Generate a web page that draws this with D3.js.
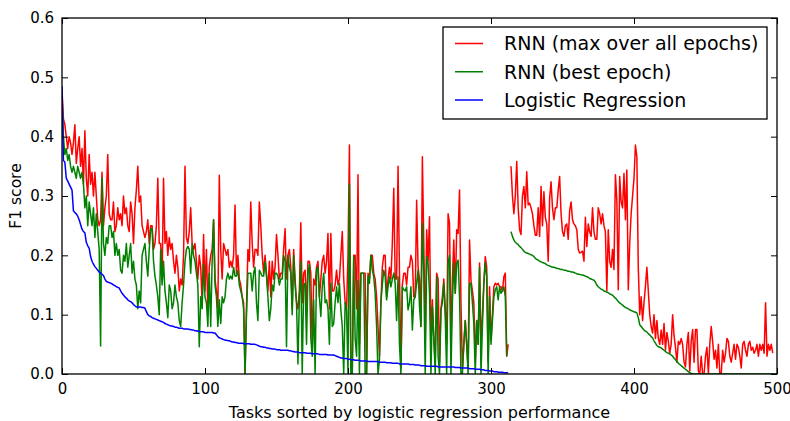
<!DOCTYPE html>
<html>
<head>
<meta charset="utf-8">
<script src="https://cdn.jsdelivr.net/npm/d3@7/dist/d3.min.js"></script>
<style>
  html, body { margin: 0; padding: 0; background: #fff; }
  svg { display: block; font-family: "DejaVu Sans", sans-serif; }
</style>
</head>
<body>
<svg id="chart" width="790" height="421"></svg>
<script>
// ---------------- DATA ----------------
const xTicks = [0, 100, 200, 300, 400, 500];
const xTickLabels = ["0", "100", "200", "300", "400", "500"];
const yTicks = [0, 0.1, 0.2, 0.3, 0.4, 0.5, 0.6];
const yTickLabels = ["0.0", "0.1", "0.2", "0.3", "0.4", "0.5", "0.6"];
const seriesNames = ["RNN (max over all epochs)", "RNN (best epoch)", "Logistic Regression"];
const xLabel = "Tasks sorted by logistic regression performance";
const yLabel = "F1 score";

// RNN (max over all epochs), first block of tasks (starting at task 0)
const rnnMaxStartA = 0;
const rnnMaxA = [
  0.48, 0.43, 0.42, 0.40, 0.38, 0.40, 0.39, 0.37, 0.39, 0.42,
  0.355, 0.38, 0.40, 0.35, 0.38, 0.32, 0.41, 0.33, 0.30, 0.37,
  0.32, 0.34, 0.30, 0.34, 0.30, 0.26, 0.25, 0.26, 0.34, 0.25,
  0.28, 0.30, 0.37, 0.27, 0.26, 0.26, 0.29, 0.24, 0.25, 0.28,
  0.26, 0.27, 0.25, 0.30, 0.27, 0.28, 0.25, 0.24, 0.29, 0.27,
  0.22, 0.28, 0.31, 0.35, 0.29, 0.30, 0.25, 0.24, 0.23, 0.24,
  0.26, 0.22, 0.25, 0.25, 0.21, 0.22, 0.25, 0.33, 0.22, 0.22,
  0.16, 0.33, 0.22, 0.24, 0.20, 0.23, 0.21, 0.22, 0.19, 0.17,
  0.20, 0.18, 0.14, 0.16, 0.15, 0.20, 0.35, 0.23, 0.22, 0.24,
  0.28, 0.22, 0.21, 0.22, 0.19, 0.16, 0.20, 0.18, 0.12, 0.235,
  0.14, 0.21, 0.11, 0.18, 0.20, 0.21, 0.26, 0.16, 0.14, 0.11,
  0.335, 0.21, 0.16, 0.22, 0.21, 0.20, 0.21, 0.18, 0.19, 0.18,
  0.20, 0.285, 0.17, 0.20, 0.16, 0.15, 0.13, 0.12, 0.0, 0.11,
  0.21, 0.19, 0.29, 0.22, 0.18, 0.21, 0.21, 0.20, 0.29, 0.25,
  0.20, 0.17, 0.20, 0.17, 0.14, 0.19, 0.13, 0.19, 0.16, 0.18,
  0.235, 0.20, 0.16, 0.17, 0.17, 0.21, 0.245, 0.16, 0.20, 0.21,
  0.18, 0.11, 0.21, 0.16, 0.12, 0.11, 0.14, 0.255, 0.12, 0.17,
  0.175, 0.11, 0.19, 0.19, 0.17, 0.04, 0.16, 0.15, 0.18, 0.19,
  0.13, 0.16, 0.19, 0.20, 0.17, 0.19, 0.237, 0.11, 0.237, 0.14,
  0.14, 0.15, 0.175, 0.15, 0.16, 0.20, 0.24, 0.16, 0.12, 0.11,
  0.20, 0.386, 0.01, 0.01, 0.20, 0.20, 0.11, 0.336, 0.05, 0.17,
  0.17, 0.17, 0.17, 0.0, 0.17, 0.16, 0.20, 0.20, 0.17, 0.16,
  0.13, 0.08, 0.03, 0.12, 0.18, 0.20, 0.20, 0.13, 0.16, 0.18,
  0.16, 0.22, 0.313, 0.16, 0.16, 0.35, 0.17, 0.01, 0.15, 0.17,
  0.17, 0.15, 0.18, 0.18, 0.20, 0.19, 0.13, 0.13, 0.293, 0.18,
  0.16, 0.08, 0.366, 0.22, 0.05, 0.243, 0.19, 0.265, 0.05, 0.125,
  0.06, 0.02, 0.17, 0.16, 0.02, 0.11, 0.13, 0.16, 0.11, 0.05,
  0.27, 0.254, 0.05, 0.16, 0.226, 0.136, 0.243, 0.237, 0.31, 0.12,
  0.01, 0.05, 0.09, 0.05, 0.01, 0.226, 0.158, 0.14, 0.12, 0.02,
  0.09, 0.05, 0.187, 0.05, 0.10, 0.153, 0.198, 0.18, 0.02, 0.147,
  0.057, 0.10, 0.147, 0.153, 0.15, 0.153, 0.147, 0.147, 0.14, 0.164,
  0.17, 0.03, 0.05
];

// RNN (max over all epochs), second block of tasks
const rnnMaxStartB = 314;
const rnnMaxB = [
  0.35, 0.30, 0.27, 0.30, 0.358, 0.28, 0.243, 0.235, 0.30, 0.316,
  0.28, 0.341, 0.285, 0.288, 0.28, 0.27, 0.25, 0.234, 0.234, 0.28,
  0.232, 0.316, 0.25, 0.307, 0.264, 0.253, 0.19, 0.296, 0.324, 0.28,
  0.26, 0.28, 0.28, 0.31, 0.333, 0.27, 0.24, 0.232, 0.25, 0.253,
  0.227, 0.275, 0.29, 0.26, 0.253, 0.25, 0.243, 0.21, 0.204, 0.205,
  0.207, 0.19, 0.264, 0.215, 0.253, 0.24, 0.232, 0.28, 0.24, 0.227,
  0.227, 0.28, 0.27, 0.253, 0.27, 0.25, 0.24, 0.14, 0.243, 0.19,
  0.18, 0.21, 0.176, 0.336, 0.293, 0.142, 0.333, 0.29, 0.28, 0.338,
  0.26, 0.344, 0.142, 0.22, 0.27, 0.30, 0.33, 0.386, 0.366, 0.18,
  0.10, 0.13, 0.09, 0.12, 0.148, 0.18, 0.14, 0.10, 0.08, 0.069,
  0.10, 0.06, 0.09, 0.06, 0.05,
  0.074, 0.05, 0.085, 0.04, 0.07, 0.055, 0.035, 0.05, 0.10, 0.065,
  0.045, 0.02, 0.055, 0.05, 0.06, 0.05, 0.02, 0.012, 0.05, 0.07,
  0.005, 0.055, 0.075, 0.02, 0.075, 0.075, 0.005, 0.0, 0.03, 0.0,
  0.0, 0.03, 0.045, 0.0, 0.05, 0.08, 0.055, 0.025, 0.04, 0.01,
  0.05, 0.0, 0.0, 0.04, 0.02, 0.035, 0.06, 0.055, 0.03, 0.02,
  0.035, 0.05, 0.025, 0.05, 0.045, 0.03, 0.01, 0.05, 0.055, 0.04,
  0.03, 0.05, 0.055, 0.04, 0.045, 0.035, 0.04, 0.05, 0.03, 0.05,
  0.04, 0.05, 0.035, 0.12, 0.03, 0.05, 0.04, 0.05, 0.035
];

// RNN (best epoch), first block
const rnnBestStartA = 0;
const rnnBestA = [
  0.47, 0.40, 0.37, 0.38, 0.36, 0.37, 0.35, 0.34, 0.35, 0.34,
  0.33, 0.35, 0.34, 0.33, 0.34, 0.32, 0.28, 0.30, 0.25, 0.29,
  0.27, 0.25, 0.28, 0.23, 0.27, 0.24, 0.21, 0.047, 0.33, 0.22,
  0.20, 0.23, 0.22, 0.25, 0.25, 0.23, 0.24, 0.20, 0.22, 0.20,
  0.21, 0.175, 0.17, 0.20, 0.19, 0.22, 0.18, 0.20, 0.22, 0.17,
  0.19, 0.16, 0.15, 0.11, 0.14, 0.12, 0.20, 0.21, 0.22, 0.19,
  0.165, 0.21, 0.245, 0.245, 0.19, 0.165, 0.15, 0.13, 0.10, 0.21,
  0.15, 0.19, 0.14, 0.12, 0.095, 0.15, 0.14, 0.11, 0.12, 0.15,
  0.13, 0.12, 0.09, 0.08, 0.12, 0.15, 0.19, 0.21, 0.215, 0.21,
  0.17, 0.22, 0.20, 0.19, 0.17, 0.15, 0.046, 0.13, 0.11, 0.185,
  0.13, 0.12, 0.08, 0.17, 0.08, 0.19, 0.26, 0.15, 0.13, 0.08,
  0.125, 0.085, 0.13, 0.12, 0.13, 0.16, 0.17, 0.16, 0.165, 0.16,
  0.18, 0.165, 0.165, 0.175, 0.15, 0.14, 0.13, 0.11, 0.0, 0.10,
  0.17, 0.17, 0.17, 0.14, 0.17, 0.18, 0.12, 0.09, 0.175, 0.17,
  0.165, 0.165, 0.19, 0.165, 0.13, 0.09, 0.11, 0.15, 0.14, 0.17,
  0.17, 0.165, 0.15, 0.16, 0.16, 0.20, 0.19, 0.046, 0.20, 0.18,
  0.17, 0.10, 0.20, 0.15, 0.12, 0.017, 0.13, 0.19, 0.0, 0.15,
  0.153, 0.05, 0.17, 0.184, 0.06, 0.03, 0.125, 0.0, 0.175, 0.18,
  0.13, 0.097, 0.147, 0.17, 0.12, 0.125, 0.11, 0.05, 0.153, 0.08,
  0.085, 0.12, 0.147, 0.12, 0.153, 0.108, 0.08, 0.0, 0.12, 0.108,
  0.0, 0.32, 0.0, 0.0, 0.198, 0.06, 0.03, 0.158, 0.0, 0.17,
  0.17, 0.17, 0.0, 0.0, 0.164, 0.153, 0.20, 0.175, 0.164, 0.136,
  0.08, 0.0, 0.024, 0.12, 0.15, 0.175, 0.164, 0.125, 0.147, 0.164,
  0.147, 0.16, 0.17, 0.153, 0.09, 0.164, 0.05, 0.0, 0.147, 0.142,
  0.14, 0.147, 0.108, 0.12, 0.147, 0.074, 0.125, 0.13, 0.153, 0.175,
  0.114, 0.08, 0.254, 0.17, 0.0, 0.198, 0.187, 0.136, 0.0, 0.114,
  0.06, 0.0, 0.164, 0.03, 0.0, 0.108, 0.12, 0.153, 0.097, 0.0,
  0.187, 0.20, 0.0, 0.12, 0.187, 0.136, 0.187, 0.192, 0.13, 0.0,
  0.0, 0.05, 0.09, 0.05, 0.0, 0.153, 0.153, 0.12, 0.085, 0.0,
  0.09, 0.05, 0.18, 0.0, 0.08, 0.153, 0.187, 0.164, 0.0, 0.13,
  0.05, 0.09, 0.13, 0.142, 0.147, 0.125, 0.147, 0.136, 0.14, 0.147,
  0.13, 0.03
];

// RNN (best epoch), second block
const rnnBestStartB = 314;
const rnnBestB = [
  0.24, 0.232, 0.226, 0.222, 0.22, 0.218, 0.215, 0.213, 0.21, 0.207,
  0.205, 0.204, 0.203, 0.202, 0.201, 0.200, 0.198, 0.195, 0.193, 0.192,
  0.19, 0.189, 0.188, 0.187, 0.186, 0.184, 0.183, 0.182, 0.181, 0.180,
  0.180, 0.179, 0.178, 0.178, 0.177, 0.176, 0.176, 0.175, 0.175, 0.174,
  0.173, 0.173, 0.172, 0.172, 0.171, 0.170, 0.169, 0.168, 0.168, 0.167,
  0.167, 0.166, 0.165, 0.164, 0.163, 0.161, 0.160, 0.159, 0.158, 0.155,
  0.150, 0.147, 0.145, 0.143, 0.142, 0.140, 0.139, 0.138, 0.137, 0.135,
  0.134, 0.133, 0.130, 0.128, 0.125, 0.122, 0.120, 0.118, 0.116, 0.114,
  0.112, 0.111, 0.110, 0.108, 0.107, 0.106, 0.105, 0.104, 0.103, 0.095,
  0.083, 0.080, 0.077, 0.074, 0.072, 0.071, 0.068, 0.066, 0.063, 0.061,
  0.056, 0.052, 0.048, 0.046, 0.045, 0.044, 0.042, 0.040, 0.038, 0.036,
  0.035, 0.034, 0.032, 0.030, 0.027, 0.024, 0.021, 0.018, 0.016, 0.014,
  0.012, 0.010, 0.008, 0.006, 0.004, 0.002, 0.001, 0, 0, 0,
  0, 0, 0, 0, 0, 0, 0, 0, 0, 0,
  0, 0, 0, 0, 0, 0, 0, 0, 0, 0,
  0, 0, 0, 0, 0, 0, 0, 0, 0, 0,
  0, 0, 0, 0, 0, 0, 0, 0, 0, 0,
  0, 0, 0, 0, 0, 0, 0, 0, 0, 0,
  0, 0, 0, 0, 0, 0, 0
];

// Logistic regression
const logRegStart = 0;
const logReg = [
  0.485, 0.36, 0.357, 0.33, 0.325, 0.32, 0.315, 0.31, 0.275, 0.272,
  0.27, 0.266, 0.26, 0.252, 0.244, 0.24, 0.238, 0.222, 0.216, 0.212,
  0.198, 0.19, 0.185, 0.181, 0.178, 0.175, 0.172, 0.17, 0.168, 0.166,
  0.16, 0.156, 0.155, 0.154, 0.153, 0.152, 0.15, 0.149, 0.147, 0.146,
  0.145, 0.14, 0.136, 0.133, 0.13, 0.128, 0.125, 0.123, 0.122, 0.12,
  0.117, 0.115, 0.113, 0.113, 0.113, 0.113, 0.112, 0.112, 0.111, 0.105,
  0.100, 0.098, 0.097, 0.095, 0.094, 0.093, 0.092, 0.091, 0.090, 0.089,
  0.088, 0.087, 0.085, 0.084, 0.083, 0.082, 0.081, 0.081, 0.080, 0.079,
  0.079, 0.078, 0.077, 0.077, 0.077, 0.076, 0.076, 0.076, 0.076, 0.075,
  0.075, 0.074, 0.074, 0.073, 0.073, 0.072, 0.072, 0.071, 0.071, 0.071,
  0.070, 0.070, 0.070, 0.070, 0.070, 0.070, 0.069, 0.069, 0.066, 0.063,
  0.061, 0.060, 0.059, 0.058, 0.057, 0.057, 0.056, 0.056, 0.055, 0.054,
  0.054, 0.053, 0.053, 0.052, 0.052, 0.052, 0.052, 0.051, 0.051, 0.051,
  0.051, 0.051, 0.050, 0.050, 0.050, 0.050, 0.049, 0.048, 0.047, 0.046,
  0.046, 0.045, 0.045, 0.044, 0.044, 0.043, 0.043, 0.042, 0.042, 0.042,
  0.041, 0.041, 0.041, 0.040, 0.040, 0.040, 0.040, 0.040, 0.040, 0.039,
  0.039, 0.038, 0.038, 0.037, 0.037, 0.037, 0.036, 0.036, 0.036, 0.036,
  0.036, 0.035, 0.035, 0.035, 0.035, 0.034, 0.034, 0.034, 0.034, 0.034,
  0.033, 0.033, 0.033, 0.033, 0.033, 0.033, 0.032, 0.032, 0.032, 0.032,
  0.032, 0.031, 0.030, 0.029, 0.028, 0.027, 0.027, 0.026, 0.026, 0.026,
  0.025, 0.025, 0.024, 0.024, 0.024, 0.023, 0.023, 0.023, 0.023, 0.022,
  0.022, 0.022, 0.022, 0.022, 0.021, 0.021, 0.021, 0.021, 0.021, 0.021,
  0.021, 0.021, 0.020, 0.020, 0.020, 0.020, 0.020, 0.019, 0.019, 0.019,
  0.019, 0.018, 0.018, 0.018, 0.018, 0.018, 0.017, 0.017, 0.017, 0.017,
  0.017, 0.017, 0.017, 0.016, 0.016, 0.016, 0.016, 0.015, 0.015, 0.015,
  0.015, 0.014, 0.014, 0.014, 0.014, 0.013, 0.013, 0.013, 0.013, 0.013,
  0.013, 0.013, 0.013, 0.012, 0.012, 0.012, 0.012, 0.012, 0.012, 0.012,
  0.012, 0.012, 0.012, 0.012, 0.012, 0.011, 0.011, 0.011, 0.011, 0.010,
  0.010, 0.010, 0.010, 0.010, 0.010, 0.009, 0.009, 0.009, 0.009, 0.008,
  0.008, 0.008, 0.008, 0.007, 0.007, 0.007, 0.006, 0.006, 0.006, 0.005,
  0.005, 0.005, 0.004, 0.004, 0.004, 0.003, 0.003, 0.003, 0.003, 0.002,
  0.002, 0.002, 0.002
];

const seriesColors = ["#ff0000", "#008000", "#0000ff"];

// ---------------- CHART ----------------
const W = 790, H = 421;
const M = { left: 62, right: 13, top: 18, bottom: 47 };
const svg = d3.select("#chart");

const x = d3.scaleLinear().domain([0, 500]).range([M.left, W - M.right]);
const y = d3.scaleLinear().domain([0, 0.6]).range([H - M.bottom, M.top]);

svg.append("defs").append("clipPath").attr("id", "clip")
  .append("rect")
  .attr("x", x(0)).attr("y", y(0.6))
  .attr("width", x(500) - x(0)).attr("height", y(0) - y(0.6));

const plot = svg.append("g").attr("clip-path", "url(#clip)");

function drawSeries(values, start, color) {
  const line = d3.line()
    .x((d, i) => x(start + i))
    .y(d => y(d));
  plot.append("path")
    .datum(values)
    .attr("fill", "none")
    .attr("stroke", color)
    .attr("stroke-width", 1.5)
    .attr("stroke-linejoin", "round")
    .attr("d", line);
}

drawSeries(rnnMaxA, rnnMaxStartA, seriesColors[0]);
drawSeries(rnnMaxB, rnnMaxStartB, seriesColors[0]);
drawSeries(rnnBestA, rnnBestStartA, seriesColors[1]);
drawSeries(rnnBestB, rnnBestStartB, seriesColors[1]);
drawSeries(logReg, logRegStart, seriesColors[2]);

// Axes (ticks pointing inward, on all four sides)
const tickFont = "15px";
const xAxisB = d3.axisBottom(x).tickValues(xTicks)
  .tickFormat((d, i) => xTickLabels[i]).tickSizeInner(-6).tickSizeOuter(0).tickPadding(9);
const xAxisT = d3.axisTop(x).tickValues(xTicks).tickFormat("").tickSizeInner(-6).tickSizeOuter(0);
const yAxisL = d3.axisLeft(y).tickValues(yTicks)
  .tickFormat((d, i) => yTickLabels[i]).tickSizeInner(-6).tickSizeOuter(0).tickPadding(8);
const yAxisR = d3.axisRight(y).tickValues(yTicks).tickFormat("").tickSizeInner(-6).tickSizeOuter(0);

function styleAxis(g) {
  g.select(".domain").remove();
  g.selectAll(".tick line").attr("stroke", "#000").attr("stroke-width", 1);
  g.selectAll(".tick text").attr("fill", "#000").style("font-size", tickFont)
    .style("font-family", "DejaVu Sans, sans-serif");
}

svg.append("g").attr("transform", `translate(0,${y(0)})`).call(xAxisB).call(styleAxis);
svg.append("g").attr("transform", `translate(0,${y(0.6)})`).call(xAxisT).call(styleAxis);
svg.append("g").attr("transform", `translate(${x(0)},0)`).call(yAxisL).call(styleAxis);
svg.append("g").attr("transform", `translate(${x(500)},0)`).call(yAxisR).call(styleAxis);

// Frame
svg.append("rect")
  .attr("x", x(0)).attr("y", y(0.6))
  .attr("width", x(500) - x(0)).attr("height", y(0) - y(0.6))
  .attr("fill", "none").attr("stroke", "#000").attr("stroke-width", 1.3);

// Axis labels
svg.append("text")
  .attr("x", (x(0) + x(500)) / 2).attr("y", 418)
  .attr("text-anchor", "middle")
  .style("font-size", "16px")
  .text(xLabel);

svg.append("text")
  .attr("transform", `translate(21,${(y(0) + y(0.6)) / 2}) rotate(-90)`)
  .attr("text-anchor", "middle")
  .style("font-size", "15.5px")
  .text(yLabel);

// Legend
const lg = svg.append("g");
const lgX = 443, lgY = 27, lgW = 324, lgH = 92;
lg.append("rect")
  .attr("x", lgX).attr("y", lgY).attr("width", lgW).attr("height", lgH)
  .attr("fill", "#fff").attr("stroke", "#000").attr("stroke-width", 1.3);
const lgRow = d3.scaleLinear().domain([0, 2]).range([43.5, 100]);
seriesNames.forEach((name, i) => {
  lg.append("line")
    .attr("x1", 455).attr("x2", 483)
    .attr("y1", lgRow(i)).attr("y2", lgRow(i))
    .attr("stroke", seriesColors[i]).attr("stroke-width", 1.5);
  lg.append("text")
    .attr("x", 504).attr("y", lgRow(i))
    .attr("dy", "0.36em")
    .style("font-size", "19px")
    .text(name);
});
</script>
</body>
</html>
